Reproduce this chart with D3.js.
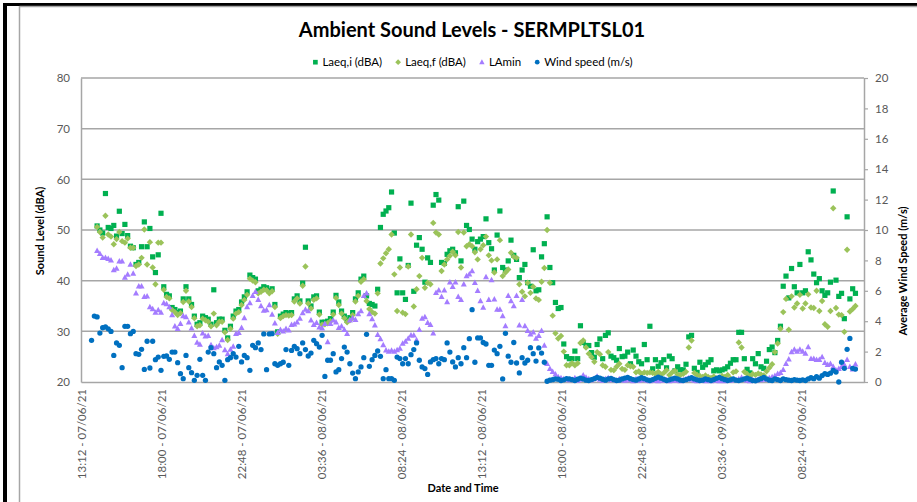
<!DOCTYPE html>
<meta charset="utf-8">
<script src="https://d3js.org/d3.v7.min.js"></script>
<style>
  body { margin: 0; background: #fff; }
  text { font-family: Lato, "Open Sans", sans-serif; }
</style>
<svg id="chart" width="917" height="502"></svg>
<script>

// readings every 10 minutes, first one at 13:50 on 07/06/21
var startTime = new Date(2021, 5, 7, 13, 50);
var stepMinutes = 10;

var laeqI = [null, null,
  50.8, 50.0, 49.4, 57.2, 50.5, 50.3, 50.9, 48.8, 53.7, 49.3, 51.1, 48.9, 46.8, 46.5, 43.2, 43.6, 46.7, 51.6, 46.7, 50.3, 44.7, 41.6, 45.1, 53.3,
  38.8, 37.3, 37.0, 34.7, 34.3, 33.7, 34.0, 36.4, 38.8, 36.4, 35.3, 33.0, 31.4, 31.7, 33.0, 32.7, 32.4, 31.4, 38.2, 31.7, 32.4, 32.4, 30.2, 28.7,
  31.0, 33.0, 34.0, 34.3, 35.8, 36.8, 37.8, 41.1, 40.6, 40.3, 38.0, 38.3, 38.8, 38.6, 38.0,
  38.4, 35.3, 29.9, 33.0, 33.4, 33.7, 33.5, 33.7, 36.4, 37.0, 36.0, 39.5, 46.6, 36.0, 35.0, 36.8, 37.0, 33.8, 31.8, 31.8,
  32.0, 32.5, 33.8, 37.1, 35.8, 34.0, 33.0, 32.2, 32.7, 33.7, 36.4, 37.6, 40.3, 40.9, 37.0, 35.5, 35.3, 35.0, 38.3,
  50.5, 53.1, 53.75, 54.4, 57.5,
  49.4, 37.6, 44.3, 37.6, 36.3, 43.0, 55.3, 37.9, 47.0, 48.5,
  46.2, 39.7, 44.5, 43.6, 54.9, 57.0, 55.9, 43.6, 43.4, 45.2,
  45.9, 46.2, 45.5, 54.6, 43.9, 55.7, 50.9, 50.1, 48.2, 46.2,
  47.7, 48.2, 48.7, 52.2, 47.5, 46.3, 42.1, 49.0, 53.75, 42.6,
  42.1, 43.9, 48.0, 45.0, 44.2, 40.6, 42.1, 43.2, 39.6, 38.9,
  46.1, 38.0, 38.2, 44.7, 47.3, 52.6, 42.6, 39.6, 35.7, 34.5,
  34.7, 27.5,
  25.0, 24.6, 24.6, 26.1, 24.6, 31.1, 27.8, 27.2, 27.2, 25.8,
  24.9, 27.4, 28.5, 24.6, 29.2, 29.7, 25.1, 24.8, 24.3, 26.6,
  25.0, 25.1, 25.9, 23.6, 26.3, 25.1, 24.0, 23.6, 27.4, 24.4,
  31.0, 22.6, 24.4, 23.1, 23.8, 24.4, 22.8, 25.1, 24.6, 22.2,
  23.0, 22.4, 22.4, 23.5, 28.9, 29.2, 22.7, 21.9, 23.9, 22.9,
  23.4, 23.9, 24.4, 22.2, 22.4, 22.2, 22.4, 22.6, 23.0, 23.7,
  24.4, 24.4, 29.8, 29.8, 24.6, 22.5, 21.8, 24.6, 23.6, 25.6,
  23.0, 22.7, 24.1, 26.4, 26.9, 25.8, 28.2, 31.0, 38.9, 40.9,
  36.6, 42.4, 38.8, 37.6, 43.2, 37.6, 38.0, 45.7, 44.1, 41.3,
  39.6, 40.4, 38.0, 37.1, 37.6, 39.7, 57.7, 40.1, 36.9, 37.5,
  32.5, 52.6, 36.4, 38.4, 37.5];

var laeqF = [null, null,
  50.6, 49.6, 48.5, 52.8, 49.1, 48.7, 47.2, 48.2, 49.6, 47.8, 47.5, 48.3, 46.5, 46.5, 42.9, 43.2, 44.5, 50.1, 43.2, 47.6, 42.6, 39.3, 47.5, 47.5,
  38.2, 36.8, 36.5, 34.2, 33.8, 33.2, 33.6, 35.8, 38.0, 35.9, 34.8, 32.6, 31.0, 31.2, 32.5, 32.2, 31.9, 31.0, 33.5, 31.2, 31.9, 31.9, 29.8, 28.3,
  30.5, 32.5, 33.5, 33.8, 35.2, 36.2, 37.2, 40.4, 40.0, 39.7, 37.5, 37.8, 38.2, 38.1, 37.5,
  37.9, 34.8, 29.5, 32.6, 33.0, 33.2, 33.1, 33.2, 35.9, 36.5, 35.5, 39.0, 42.8, 35.5, 34.5, 36.2, 36.5, 33.3, 31.3, 31.4,
  31.6, 32.0, 33.3, 36.6, 35.2, 33.5, 32.6, 31.8, 32.2, 33.2, 35.9, 37.0, 39.8, 40.3, 36.0, 34.4, 33.8, 33.5, 37.5,
  43.4, 44.4, 45.4, 46.2, 49.1, 41.25, 34.0, 42.6, 33.7, 33.4,
  42.8, 49.1, 34.9, 38.3, 40.9, 44.5, 38.6, 39.6, 39.3, 51.4,
  49.5, 49.1, 41.9, 43.2, 44.2, 44.9, 45.7, 45.0, 49.6, 42.6,
  49.5, 46.8, 47.2,
  46.8, 45.6, 44.2, 46.2, 47.0, 48.7, 45.0, 44.0, 41.6, 44.2,
  48.0, 40.9, 41.6, 42.2, 45.5, 44.7, 44.5, 39.3, 37.8, 36.9,
  39.6, 37.6, 38.8, 36.5, 36.2, 39.8, 42.5, 50.0, 39.6, 33.1,
  29.6, 28.6, 29.1, 26.0, 23.3,
  23.3, 23.7, 23.3, 23.7,
  27.7, 28.2, 26.8, 25.6, 24.9, 24.0, 25.9, 25.5, 23.3, 23.0,
  25.9, 22.4, 22.3, 23.0, 23.6, 22.6, 22.4, 23.3, 23.1, 23.0,
  21.9, 22.1, 21.6, 21.9, 21.8, 21.9, 21.8, 21.6,
  22.0, 21.5, 21.8, 22.3, 21.4, 21.9, 22.2, 21.5, 21.4, 21.6,
  22.0, 26.8, 28.2,
  21.8, 21.4, 21.2, 21.0, 21.3, 21.0, 20.8, 21.1, 20.7, 20.9, 21.2, 21.0, 21.4, 20.7, 21.9, 22.1,
  27.8, 26.8, 22.0,
  21.6, 21.0, 21.6, 21.4, 21.7, 21.5, 21.3, 22.1, 22.8, 23.5,
  25.9, 27.6, 30.5,
  33.8, 36.4, 30.3, 36.9, 34.7, 35.5, 37.2, 34.5, 35.5, 37.3,
  34.7, 34.6, 38.0, 34.0, 36.0, 31.4, 30.9, 34.0, 54.3, 34.6,
  33.3, 33.2, 29.9, 46.1, 33.9, 34.4, 35.0];

var laMin = [null, null,
  45.9, 45.3, 44.5, 44.5, 44.3, 44.0, 42.1, 42.4, 43.8, 43.8, 40.6, 41.2, 43.2, 41.4, 37.5, 38.9, 38.9, 36.8, 36.9, 34.8, 34.4, 33.7, 34.2, 33.7,
  35.6, 35.4, 34.8, 33.2, 31.0, 30.5, 31.5, 33.0, 32.8, 31.8, 30.6, 29.1, 27.8, 27.4, 29.6, 29.0, 29.1, 27.3, 26.7, 26.9, 27.2, 28.3, 26.3, 25.5,
  26.4, 27.0, 29.5, 29.7, 30.7, 32.6, 34.8, 35.6, 37.0, 37.8, 36.2, 35.0, 34.1, 34.2, 35.2,
  33.3, 31.6, 29.7, 30.3, 30.0, 30.5, 30.2, 31.3, 31.4, 31.8,
  32.5, 33.6, 34.3, 34.0, 32.2, 31.3, 31.7, 30.8, 30.6, 31.5,
  27.9, 31.5, 32.2, 31.8, 30.7, 31.0, 30.3, 29.5, 32.2, 32.6,
  32.3, 33.4, 34.0, 37.0, 37.5, 33.4, 32.4, 31.2, 29.3, 28.5,
  27.3, 26.25, 26.0, 26.2, 26.0, 26.3, 26.6, 27.6, 28.0, 28.6,
  29.2, 29.2, 28.3, 30.3, 32.5, 32.8, 31.7, 31.3, 29.6, 37.6,
  38.1, 36.8, 38.1, 35.8, 39.7, 38.8, 39.7, 36.8, 36.2, 39.3,
  40.9, 41.25, 41.9, 39.6, 38.0, 36.0, 34.7, 40.7, 36.2, 40.1,
  36.3, 34.3, 34.3, 33.0, 31.05, 37.0, 36.0, 35.0, 37.0, 31.2,
  36.2, 31.05, 30.1, 29.4, 29.8, 28.6, 29.1, 30.1, 27.2, 23.6,
  22.6, 22.0, 21.5, 21.0, 20.8, 20.6,
  20.6, 20.4, 20.5, 20.8, 20.3, 20.5, 21.3, 20.9, 20.6, 20.4,
  20.7, 21.1, 20.5, 20.3, 20.6, 20.8, 20.4, 20.5, 20.3, 20.6,
  20.4, 20.3, 20.5, 20.4, 20.2, 20.6, 20.3, 20.4, 20.5, 20.3,
  20.2, 20.4, 20.3, 20.2, 20.5, 20.3, 20.4, 20.2, 20.3, 20.4,
  20.3, 20.2, 20.4, 20.6, 20.8, 20.5, 20.3, 20.2, 20.3, 20.4,
  20.2, 20.3, 20.2, 20.4, 20.3, 20.2, 20.3, 20.2, 20.4, 20.3,
  20.5, 20.4, 20.6, 20.9, 20.5, 20.3, 20.2, 20.4, 20.3, 20.5,
  20.4, 20.6, 20.5, 20.8, 21.0, 21.2, 21.6,
  21.8, 22.4, 23.6, 24.5, 25.9, 26.4, 26.0, 26.4, 26.0, 25.6,
  26.9, 24.6, 24.6, 24.4, 24.4, 24.9, 23.8, 23.4, 23.6, 23.0,
  22.3, 22.6, 23.0, 23.4, 24.4, 23.0, 22.5, 23.5];

var windSpeed = [
  2.74, 4.34, 4.28, 3.22, 3.57, 3.62, 3.5, 3.33, 1.75, 2.57,
  2.41, 0.94, 3.66, 3.66, 3.18, 3.33, 1.86, 1.82, 2.15, 0.83,
  2.68, 0.92, 2.68, 1.47, 1.64, 0.77, 1.69, 1.71, 1.49, 1.97,
  1.97, 1.27, 0.55, 0.22, 1.75, 0.94, 0.61, 0.11, 0.44, 1.49,
  0.44, 0.11, 1.97, 2.26, 1.86, 0.94, 1.32, 1.1, 0.11, 1.47,
  1.6, 1.86, 1.64, 2.35, 1.32, 1.75, 1.6, 0.77, 2.41, 2.26,
  2.57, 2.13, 3.16, 0.81, 3.16, 3.18,
  1.2, 1.1, 1.2, 1.3, 2.13, 1.1, 2.08, 2.35, 2.19, 1.86,
  2.57, 2.13, 1.71, 1.9, 2.74, 2.52, 2.3, 3.07, 0.37, 1.43,
  1.43, 1.86, 0.66, 0.81, 1.54, 2.3, 1.97, 1.2, 0.59, 0.22,
  0.66, 0.99, 1.6, 3.14, 1.03, 1.47, 1.75, 2.04, 1.69, 0.22,
  0.81, 0.22, 0.22, 0.11, 1.64, 1.54, 1.2, 1.54, 1.2, 1.8,
  2.13, 2.57, 1.43, 0.99, 0.88, 0.5, 1.32, 1.47, 1.54, 1.2,
  1.54, 1.47, 2.57, 1.97, 1.32, 0.99, 1.6, 1.2, 2.26, 1.6,
  2.85, 4.76, 1.3, 2.9, 2.9, 2.6, 2.5, 1.1, 1.1, 2.1,
  1.86, 2.35, 0.2, 3.2, 1.7, 1.3, 2.6, 1.25, 0.6, 1.6,
  1.25, 1.43, 2.26, 1.86, 1.38, 2.24, 1.9, 1.3, 0.05,
  0.12, 0.15, 0.2, 0.18, 0.1, 0.14, 0.22, 0.2, 0.15, 0.1,
  0.18, 0.26, 0.2, 0.12, 0.1, 0.16, 0.22, 0.3, 0.25, 0.18,
  0.12, 0.2, 0.24, 0.15, 0.1, 0.12, 0.2, 0.26, 0.3, 0.22,
  0.16, 0.12, 0.2, 0.28, 0.22, 0.14, 0.1, 0.16, 0.24, 0.32,
  0.25, 0.18, 0.1, 0.14, 0.2, 0.25, 0.2, 0.12, 0.1, 0.15,
  0.22, 0.28, 0.2, 0.14, 0.1, 0.12, 0.2, 0.15, 0.1, 0.16,
  0.24, 0.3, 0.22, 0.15, 0.1, 0.14, 0.2, 0.12, 0.1, 0.14,
  0.2, 0.25, 0.18, 0.1, 0.08, 0.14, 0.22, 0.3, 0.2, 0.12, 0.1,
  0.2, 0.15, 0.1, 0.2, 0.15, 0.12, 0.1, 0.15, 0.12, 0.1,
  0.14, 0.1, 0.2, 0.28, 0.22, 0.35, 0.25, 0.42, 0.55, 0.5,
  0.58, 0.77, 0.65, 0.0, 1.3, 0.9, 2.15, 2.87, 0.9, 0.85];

var seriesNames = ["Laeq,i (dBA)", "Laeq,f (dBA)", "LAmin", "Wind speed (m/s)"];
var soundTicks = [20, 30, 40, 50, 60, 70, 80];
var windTicks = [0, 2, 4, 6, 8, 10, 12, 14, 16, 18, 20];
var dateTickLabels = ["13:12 - 07/06/21", "18:00 - 07/06/21", "22:48 - 07/06/21", "03:36 - 08/06/21",
  "08:24 - 08/06/21", "13:12 - 08/06/21", "18:00 - 08/06/21", "22:48 - 08/06/21",
  "03:36 - 09/06/21", "08:24 - 09/06/21"];
var axisStart = new Date(2021, 5, 7, 13, 12);
var tickStepMinutes = 288;

var svg = d3.select("#chart");
var plotLeft = 81, plotRight = 864, plotTop = 78, plotBottom = 382;
var minute = 60000;

var x = d3.scaleTime()
  .domain([axisStart, new Date(+axisStart + (plotRight - plotLeft) / 80 * tickStepMinutes * minute)])
  .range([plotLeft, plotRight]);
var y = d3.scaleLinear().domain([20, 80]).range([plotBottom, plotTop]);
var y2 = d3.scaleLinear().domain([0, 20]).range([plotBottom, plotTop]);

function timeAt(i) { return new Date(+startTime + i * stepMinutes * minute); }

// frame around the picture
svg.append("rect").attr("x", 3).attr("y", 3).attr("width", 914).attr("height", 3).attr("fill", "#000");
svg.append("rect").attr("x", 3).attr("y", 3).attr("width", 4).attr("height", 499).attr("fill", "#000");
svg.append("line").attr("x1", 19.5).attr("x2", 19.5).attr("y1", 6).attr("y2", 502)
  .attr("stroke", "#a6a6a6").attr("stroke-width", 1.5);
svg.append("line").attr("x1", 19.5).attr("x2", 917).attr("y1", 6.5).attr("y2", 6.5)
  .attr("stroke", "#a6a6a6").attr("stroke-width", 1.5);

// title
svg.append("text")
  .attr("x", 472).attr("y", 37)
  .attr("text-anchor", "middle")
  .style("font-size", "20px").style("font-weight", "bold").attr("fill", "#000")
  .text("Ambient Sound Levels - SERMPLTSL01");

// gridlines
svg.append("g").selectAll("line")
  .data(soundTicks.slice(1))
  .enter().append("line")
    .attr("x1", plotLeft).attr("x2", plotRight)
    .attr("y1", function(d) { return y(d); }).attr("y2", function(d) { return y(d); })
    .attr("stroke", "#a6a6a6").attr("stroke-width", 1.5);

// left axis
var leftAxis = svg.append("g")
  .attr("transform", "translate(" + plotLeft + ",0)")
  .call(d3.axisLeft(y).tickValues(soundTicks).tickSize(0).tickPadding(11));
leftAxis.select(".domain").attr("stroke", "#a6a6a6").attr("stroke-width", 1.5);
leftAxis.selectAll("text").attr("fill", "#595959").style("font-size", "11.5px");

// right axis
var rightAxis = svg.append("g")
  .attr("transform", "translate(" + plotRight + ",0)")
  .call(d3.axisRight(y2).tickValues(windTicks).tickSize(4).tickSizeOuter(0).tickPadding(7));
rightAxis.select(".domain").attr("stroke", "#a6a6a6").attr("stroke-width", 1.5);
rightAxis.selectAll(".tick line").attr("stroke", "#a6a6a6").attr("stroke-width", 1.2);
rightAxis.selectAll("text").attr("fill", "#595959").style("font-size", "11.5px");

// bottom axis
var tickDates = dateTickLabels.map(function(d, k) { return new Date(+axisStart + k * tickStepMinutes * minute); });
var bottomAxis = svg.append("g")
  .attr("transform", "translate(0," + plotBottom + ")")
  .call(d3.axisBottom(x).tickValues(tickDates).tickSize(0).tickSizeOuter(0)
    .tickFormat(function(d, k) { return dateTickLabels[k]; }));
bottomAxis.select(".domain").attr("stroke", "#a6a6a6").attr("stroke-width", 1.5);
bottomAxis.selectAll("text")
  .attr("fill", "#595959").style("font-size", "11.5px")
  .attr("text-anchor", "end")
  .attr("transform", "rotate(-90)")
  .attr("x", -7).attr("y", 0).attr("dy", "0.35em");

// axis titles
svg.append("text")
  .attr("transform", "translate(44,231) rotate(-90)")
  .attr("text-anchor", "middle")
  .style("font-size", "11px").style("font-weight", "bold").attr("fill", "#000")
  .text("Sound Level (dBA)");
svg.append("text")
  .attr("transform", "translate(907,271) rotate(-90)")
  .attr("text-anchor", "middle")
  .style("font-size", "11px").style("font-weight", "bold").attr("fill", "#000")
  .text("Average Wind Speed (m/s)");
svg.append("text")
  .attr("x", 463).attr("y", 492)
  .attr("text-anchor", "middle")
  .style("font-size", "11px").style("font-weight", "bold").attr("fill", "#000")
  .text("Date and Time");

// marker shapes
var shapes = {
  square: "M-2.6,-2.6H2.6V2.6H-2.6Z",
  diamond: "M0,-3.2L3.2,0L0,3.2L-3.2,0Z",
  triangle: "M0,-3.3L3,2.2H-3Z",
  circle: d3.symbol().type(d3.symbolCircle).size(22)()
};
var series = [
  { name: seriesNames[0], values: laeqI, scale: y, shape: shapes.square, color: "#00b050" },
  { name: seriesNames[1], values: laeqF, scale: y, shape: shapes.diamond, color: "#9bc35a" },
  { name: seriesNames[2], values: laMin, scale: y, shape: shapes.triangle, color: "#a47cff" },
  { name: seriesNames[3], values: windSpeed, scale: y2, shape: shapes.circle, color: "#0070c0" }
];

series.forEach(function(s) {
  var pts = [];
  s.values.forEach(function(v, i) { if (v !== null) pts.push({ t: timeAt(i), v: v }); });
  svg.append("g").selectAll("path")
    .data(pts)
    .enter().append("path")
      .attr("d", s.shape)
      .attr("transform", function(d) { return "translate(" + x(d.t) + "," + s.scale(d.v) + ")"; })
      .attr("fill", s.color);
});

// legend
var legend = svg.append("g");
var lx = 0;
series.forEach(function(s) {
  var item = legend.append("g").attr("transform", "translate(" + lx + ",0)");
  item.append("path").attr("d", s.shape).attr("fill", s.color).attr("transform", "translate(0,-3.8) scale(0.9)");
  var t = item.append("text").attr("x", 7).attr("y", 0)
    .style("font-size", "11.5px").attr("fill", "#000").text(s.name);
  lx += 7 + t.node().getComputedTextLength() + 16;
});
var legendWidth = lx - 16;
legend.attr("transform", "translate(" + (474 - legendWidth / 2) + ",66)");

</script>
